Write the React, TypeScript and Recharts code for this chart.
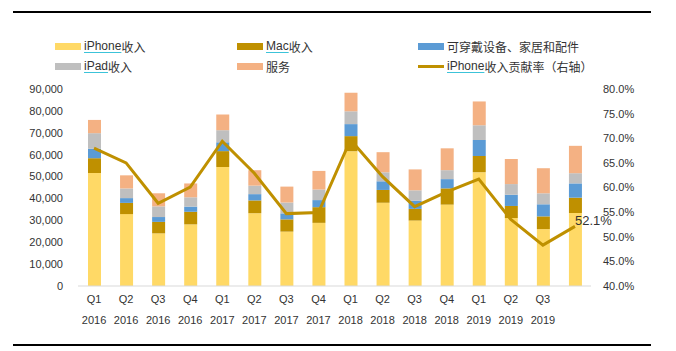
import { ComposedChart, Bar, Line, XAxis, YAxis } from 'recharts'

const quarters = ['Q1', 'Q2', 'Q3', 'Q4', 'Q1', 'Q2', 'Q3', 'Q4', 'Q1', 'Q2', 'Q3', 'Q4', 'Q1', 'Q2', 'Q3', '']
const years = ['2016', '2016', '2016', '2016', '2017', '2017', '2017', '2017', '2018', '2018', '2018', '2018', '2019', '2019', '2019', '']

// revenue in millions USD
const iphone = [51635, 32857, 24048, 28160, 54378, 33249, 24846, 28846, 61576, 38032, 29906, 37185, 51982, 31051, 25986, 33362]
const mac = [6746, 5107, 5239, 5739, 7244, 5844, 5592, 7170, 6895, 5848, 5330, 7411, 7416, 5513, 5820, 6991]
const wearables = [4351, 2189, 2219, 2372, 4024, 2873, 2735, 3231, 5489, 3954, 3740, 4234, 7308, 5129, 5525, 6520]
const ipad = [7084, 4413, 4876, 4255, 5533, 3889, 4969, 4831, 5862, 4113, 4741, 4089, 6729, 4872, 5023, 4656]
const services = [6056, 5991, 5976, 6325, 7172, 7041, 7266, 8501, 8471, 9190, 9548, 9981, 10875, 11450, 11455, 12511]
// iPhone share of revenue, %
const iphoneShare = [68.0, 65.0, 56.8, 60.1, 69.4, 62.9, 54.7, 54.9, 69.7, 62.2, 56.1, 59.1, 61.7, 53.5, 48.3, 52.1]

const leftTicks = [0, 10000, 20000, 30000, 40000, 50000, 60000, 70000, 80000, 90000]
const rightTicks = [40, 45, 50, 55, 60, 65, 70, 75, 80]

const data = quarters.map((q, i) => ({
  key: `${q}-${years[i]}-${i}`,
  quarter: q,
  year: years[i],
  iphone: iphone[i],
  mac: mac[i],
  wearables: wearables[i],
  ipad: ipad[i],
  services: services[i],
  share: iphoneShare[i],
}))

const FONT = '"Liberation Sans", Arial, "Noto Sans CJK SC", sans-serif'
const TEXT = '#333333'
const UNDERLINE = '#3cc3d9'

const COLORS = {
  iphone: '#FFD966',
  mac: '#BF9000',
  wearables: '#5B9BD5',
  ipad: '#BFBFBF',
  services: '#F4B183',
  line: '#BF9000',
}

const XTick = ({ x, y, payload }: { x?: number; y?: number; payload?: { index: number } }) => {
  const d = data[payload?.index ?? 0]
  return (
    <g>
      <text x={x} y={(y ?? 0) + 17} textAnchor="middle" fontSize={11} fill={TEXT} fontFamily={FONT}>
        {d.quarter}
      </text>
      <text x={x} y={(y ?? 0) + 38} textAnchor="middle" fontSize={11} fill={TEXT} fontFamily={FONT}>
        {d.year}
      </text>
    </g>
  )
}

const LastLabel = (props: { x?: number; y?: number; index?: number; value?: number }) => {
  const { x, y, index, value } = props
  if (index !== data.length - 1 || x == null || y == null || value == null) return null
  return (
    <text x={x} y={y - 1} fontSize={13} fill={TEXT} fontFamily={FONT}>
      {value.toFixed(1)}%
    </text>
  )
}

const u = (s: string) => (
  <span style={{ textDecoration: 'underline', textDecorationColor: UNDERLINE, textUnderlineOffset: '2px' }}>{s}</span>
)

const legendItems = [
  { left: 55, top: 46, color: COLORS.iphone, label: <>{u('iPhone')}收入</> },
  { left: 237, top: 46, color: COLORS.mac, label: <>{u('Mac')}收入</> },
  { left: 418, top: 46, color: COLORS.wearables, label: <>可穿戴设备、家居和配件</> },
  { left: 55, top: 66, color: COLORS.ipad, label: <>{u('iPad')}收入</> },
  { left: 237, top: 66, color: COLORS.services, label: <>服务</> },
  { left: 418, top: 66, color: COLORS.line, label: <>{u('iPhone')}收入贡献率（右轴）</>, isLine: true },
]

export default function App() {
  return (
    <div style={{ position: 'absolute', left: 0, top: 0, width: 676, height: 351, background: '#fff', fontFamily: FONT }}>
      <div style={{ position: 'absolute', left: 13, top: 11, width: 638, height: 2, background: '#000' }} />
      <div style={{ position: 'absolute', left: 13, top: 344, width: 638, height: 2, background: '#000' }} />
      {legendItems.map((item, i) => (
        <div
          key={i}
          style={{ position: 'absolute', left: item.left, top: item.top - 9, height: 18, display: 'flex', alignItems: 'center', fontSize: 12, color: TEXT, whiteSpace: 'nowrap' }}
        >
          <span
            style={{
              display: 'inline-block',
              width: 26,
              height: item.isLine ? 3 : 7,
              background: item.color,
              marginRight: 3,
            }}
          />
          {item.label}
        </div>
      ))}
      <ComposedChart width={676} height={351} data={data} margin={{ top: 89, right: 0, bottom: 0, left: 0 }} barSize={13}>
        <XAxis
          dataKey="key"
          height={65}
          axisLine={{ stroke: '#d9d9d9' }}
          tickLine={false}
          tickSize={0}
          tickMargin={0}
          interval={0}
          tick={<XTick />}
        />
        <YAxis
          yAxisId="left"
          width={78}
          domain={[0, 90000]}
          ticks={leftTicks}
          axisLine={false}
          tickLine={false}
          tickSize={0}
          tickMargin={15}
          tick={{ fontSize: 11, fill: TEXT, fontFamily: FONT }}
          tickFormatter={(v: number) => v.toLocaleString('en-US')}
        />
        <YAxis
          yAxisId="right"
          orientation="right"
          width={85}
          domain={[40, 80]}
          ticks={rightTicks}
          axisLine={false}
          tickLine={false}
          tickSize={0}
          tickMargin={12}
          tick={{ fontSize: 11, fill: TEXT, fontFamily: FONT, textAnchor: 'start' }}
          tickFormatter={(v: number) => `${v.toFixed(1)}%`}
        />
        <Bar yAxisId="left" dataKey="iphone" stackId="a" fill={COLORS.iphone} isAnimationActive={false} />
        <Bar yAxisId="left" dataKey="mac" stackId="a" fill={COLORS.mac} isAnimationActive={false} />
        <Bar yAxisId="left" dataKey="wearables" stackId="a" fill={COLORS.wearables} isAnimationActive={false} />
        <Bar yAxisId="left" dataKey="ipad" stackId="a" fill={COLORS.ipad} isAnimationActive={false} />
        <Bar yAxisId="left" dataKey="services" stackId="a" fill={COLORS.services} isAnimationActive={false} />
        <Line
          yAxisId="right"
          type="linear"
          dataKey="share"
          stroke={COLORS.line}
          strokeWidth={3}
          dot={false}
          activeDot={false}
          label={<LastLabel />}
          isAnimationActive={false}
        />
      </ComposedChart>
    </div>
  )
}
